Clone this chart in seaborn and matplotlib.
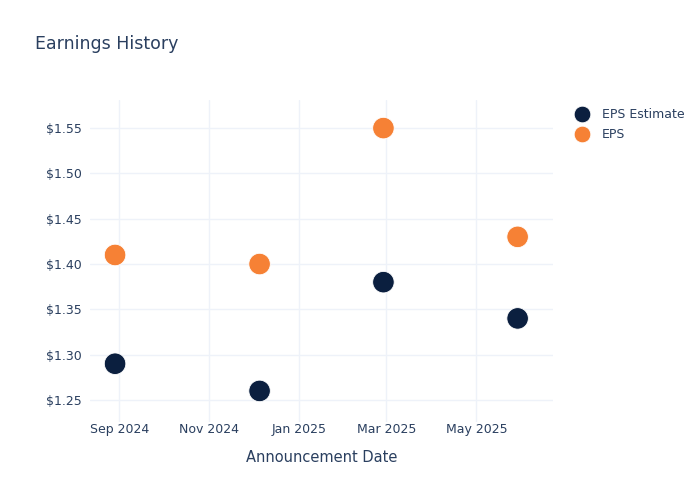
import matplotlib
matplotlib.use("Agg")
import matplotlib.pyplot as plt
import matplotlib.dates as mdates
from matplotlib.ticker import FuncFormatter
import pandas as pd
import seaborn as sns

dates = ["2024-08-29", "2024-12-05", "2025-02-27", "2025-05-29"]
eps_estimate = [1.29, 1.26, 1.38, 1.34]
eps_actual = [1.41, 1.40, 1.55, 1.43]

df = pd.DataFrame({
    "date": pd.to_datetime(dates * 2),
    "value": eps_estimate + eps_actual,
    "series": ["EPS Estimate"] * 4 + ["EPS"] * 4,
})

sns.set_style("white")
plt.rcParams["font.family"] = ["DejaVu Sans"]
text_color = "#2a3f5f"
grid_color = "#EEF2F9"

fig = plt.figure(figsize=(7, 5), dpi=100)
ax = fig.add_axes([90 / 700, 1 - 422 / 500, (553 - 90) / 700, (422 - 100) / 500])

sns.scatterplot(data=df, x="date", y="value", hue="series",
                palette={"EPS Estimate": "#0b1f3f", "EPS": "#f68135"},
                s=240, edgecolor="white", linewidth=0.6, ax=ax, zorder=3)

ax.set_xlim(pd.Timestamp("2024-08-12"), pd.Timestamp("2025-06-22"))
ax.set_ylim(1.2257, 1.581)
ax.set_yticks([1.25, 1.30, 1.35, 1.40, 1.45, 1.50, 1.55])
ax.yaxis.set_major_formatter(FuncFormatter(lambda v, p: f"${v:.2f}"))
ax.xaxis.set_major_locator(mdates.MonthLocator(bymonth=[1, 3, 5, 9, 11]))
ax.xaxis.set_major_formatter(mdates.DateFormatter("%b %Y"))

ax.grid(True, color=grid_color, linewidth=1)
ax.set_axisbelow(True)
for s in ax.spines.values():
    s.set_visible(False)
ax.tick_params(length=0, labelsize=9, colors=text_color, pad=6)
ax.tick_params(axis="x", pad=1)
ax.set_xlabel("Announcement Date", fontsize=10.5, color=text_color, labelpad=10)
ax.set_ylabel("")

leg = ax.legend(loc="upper left", bbox_to_anchor=(1.025, 0.99), frameon=False,
                fontsize=9, labelcolor=text_color, handletextpad=0.6,
                borderaxespad=0, labelspacing=0.55)
for h in leg.legend_handles:
    h.set_markersize(12)

fig.text(35 / 700, 1 - 44 / 500, "Earnings History", fontsize=12.5,
         color=text_color, va="center", ha="left")

fig.savefig("out.png", dpi=100)
